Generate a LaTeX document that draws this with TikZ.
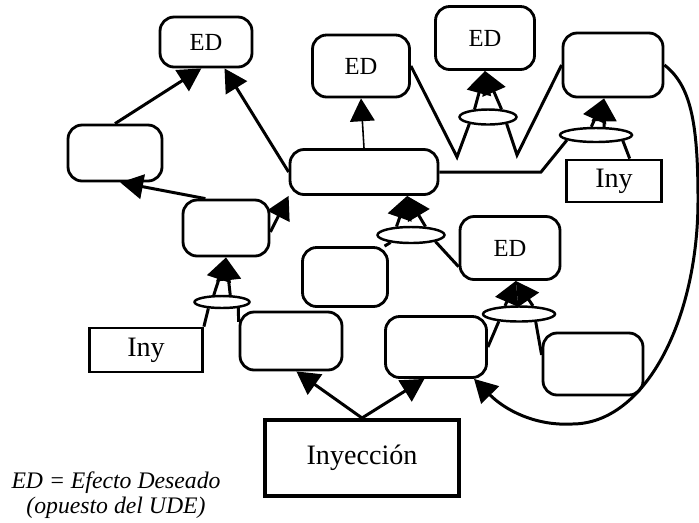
\documentclass[tikz,border=0pt]{standalone}
\usepackage{fontspec}
\setmainfont{Liberation Serif}
\usetikzlibrary{arrows.meta, shapes.geometric}

\begin{document}
\begin{tikzpicture}[
		% Pixel-like axes: x to the right, y downwards
		x={(0.02cm, 0cm)},
		y={(0cm, -0.02cm)},
		font=\fontsize{14}{16}\selectfont,
		caja/.style={draw, line width=1.6pt, rounded corners=8pt, fill=white, inner sep=0pt},
		iny/.style={draw, line width=1.6pt, fill=white, inner sep=0pt, font=\fontsize{16}{18}\selectfont},
		yy/.style={draw, ellipse, line width=1.4pt, fill=white, inner sep=0pt},
		enlace/.style={line width=1.7pt},
		flecha/.style={enlace, -{Triangle[length=13pt, width=14pt]}}
		]
		
		\useasboundingbox (0,0) rectangle (699,522);
		
		% ==========================================
		% 1. Desired effects (ED)
		% ==========================================
		\node[caja, minimum width=1.84cm, minimum height=1.0cm] (ed1) at (206,42) {ED};
		\node[caja, minimum width=1.94cm, minimum height=1.24cm] (ed2) at (361,66) {ED};
		\node[caja, minimum width=1.98cm, minimum height=1.26cm] (ed3) at (485,38) {ED};
		\node[caja, minimum width=2.0cm, minimum height=1.26cm] (ed4) at (510,248) {ED};
		
		% ==========================================
		% 2. Empty entities
		% ==========================================
		\node[caja, minimum width=1.88cm, minimum height=1.12cm] (c1) at (115,153) {};
		\node[caja, minimum width=1.72cm, minimum height=1.12cm] (c2) at (226,228) {};
		\node[caja, minimum width=2.96cm, minimum height=0.9cm] (c3) at (364,172) {};
		\node[caja, minimum width=2.0cm, minimum height=1.28cm] (c4) at (613,65) {};
		\node[caja, minimum width=1.7cm, minimum height=1.18cm] (c5) at (345,277) {};
		\node[caja, minimum width=2.04cm, minimum height=1.16cm] (c6) at (291,341) {};
		\node[caja, minimum width=2.02cm, minimum height=1.22cm] (c7) at (436,347) {};
		\node[caja, minimum width=2.0cm, minimum height=1.24cm] (c8) at (593,364) {};
		
		% ==========================================
		% 3. Injections
		% ==========================================
		\node[iny, minimum width=1.9cm, minimum height=0.84cm] (iny2) at (614,181) {Iny};
		\node[iny, minimum width=2.26cm, minimum height=0.88cm] (iny1) at (146,350) {Iny};
		\node[iny, line width=2.3pt, minimum width=3.88cm, minimum height=1.52cm] (inyec) at (362,458) {Inyección};
		
		% AND ellipses
		\node[yy, minimum width=1.14cm, minimum height=0.3cm] (y1) at (488,117) {};
		\node[yy, minimum width=1.44cm, minimum height=0.28cm] (y2) at (596,135) {};
		\node[yy, minimum width=1.34cm, minimum height=0.32cm] (y3) at (411,235) {};
		\node[yy, minimum width=1.1cm, minimum height=0.24cm] (y4) at (222,302) {};
		\node[yy, minimum width=1.44cm, minimum height=0.3cm] (y5) at (519,314) {};
		
		% Legend
		\node[font=\fontsize{13.5}{14.2}\selectfont\itshape, align=center] (leyenda) at (116,495) {ED = Efecto Deseado\\(opuesto del UDE)};
		
		% ==========================================
		% 4. Connectors
		% ==========================================
		\coordinate (v1) at (457,157);
		\coordinate (v2) at (517,155);
		\coordinate (codo) at (541,172);
		
		\draw[flecha] (c1.north) -- (ed1.-100);
		\draw[flecha] (c3.west) -- (ed1.-55);
		\draw[flecha] (c2.125) -- (c1.-80);
		\draw[flecha] (c2.-5) -- (c3.south west);
		\draw[flecha, line width=0.9pt] (c3.north) -- (ed2.south);
		
		% W shape into y1
		\draw[enlace] (ed2.east) -- (v1) -- (y1.-160);
		\draw[enlace] (y1.-20) -- (v2) -- (c4.west);
		\draw[flecha] (y1.150) -- (ed3.south);
		\draw[flecha] (y1.30) -- (ed3.south);
		
		% y2 into c4
		\draw[enlace] (c3.east) -- (codo) -- (y2.-170);
		\draw[enlace] (iny2.55) -- (y2.-12);
		\draw[flecha] (y2.120) -- (c4.-105);
		\draw[flecha] (y2.45) -- (c4.-105);
		
		% y3 into c3
		\draw[enlace] (c5.38) -- (y3.-160);
		\draw[enlace] (ed4.-160) -- (y3.-15);
		\draw[flecha] (y3.150) -- (c3.-29);
		\draw[flecha] (y3.30) -- (c3.-29);
		
		% y5 into ed4
		\draw[enlace] (c7.east) -- (y5.-160);
		\draw[enlace] (c8.170) -- (y5.-25);
		\draw[flecha] (y5.150) -- (ed4.-80);
		\draw[flecha] (y5.30) -- (ed4.-80);
		
		% y4 into c2
		\draw[enlace] (iny1.north east) -- (y4.-155);
		\draw[enlace] (c6.160) -- (y4.-20);
		\draw[flecha] (y4.140) -- (c2.south);
		\draw[flecha] (y4.40) -- (c2.south);
		
		% From the injection
		\draw[flecha] (inyec.north) -- (c6.-80);
		\draw[flecha] (inyec.north) -- (c7.-110);
		
		% Loop from c4 back to c7
		\draw[flecha] (c4.east) .. controls (690,85) and (698,120) .. (698,200)
		.. controls (698,320) and (645,424) .. (572,424)
		.. controls (535,426) and (505,410) .. (c7.-40);
		
	\end{tikzpicture}
\end{document}
